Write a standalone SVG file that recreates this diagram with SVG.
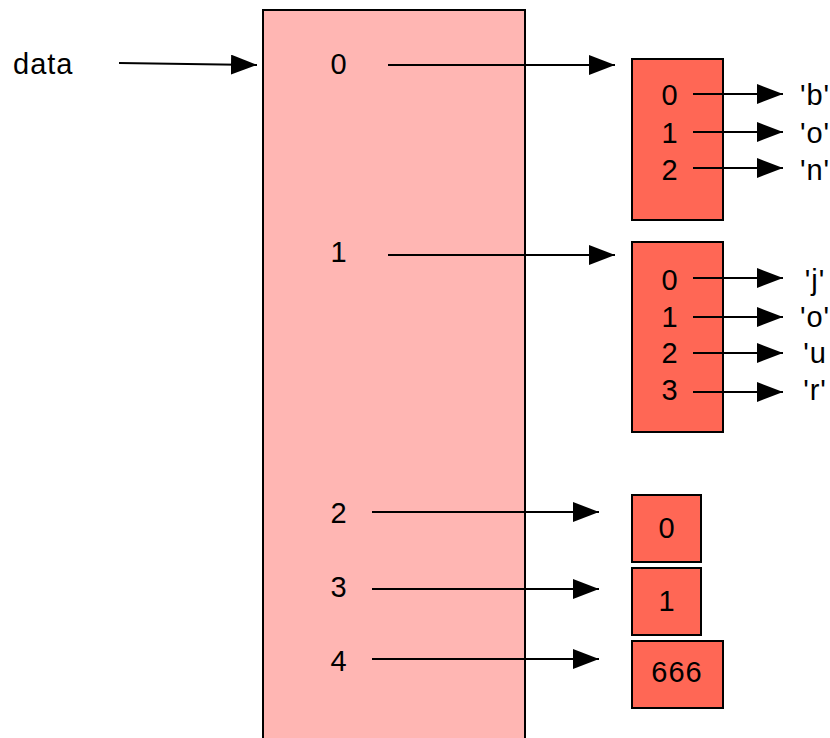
<svg xmlns="http://www.w3.org/2000/svg" width="830" height="738" viewBox="0 0 830 738">
<style>
text{font-family:"Liberation Sans",Arial,sans-serif;font-size:29px;letter-spacing:1px;fill:#000}
.m{text-anchor:middle}
.big{fill:#ffb6b3;stroke:#000;stroke-width:2}
.box{fill:#ff6755;stroke:#000;stroke-width:2}
.c{stroke:#000;stroke-width:2;fill:none;marker-end:url(#ah)}
</style>
<defs>
<marker id="ah" markerUnits="userSpaceOnUse" markerWidth="27" markerHeight="20" refX="26" refY="10" orient="auto">
<path d="M0,0 L26,10 L0,20 z" fill="#000"/>
</marker>
</defs>
<g id="data-label"><text x="13" y="74">data</text></g>
<g id="list">
<rect class="big" x="263" y="10" width="262" height="740"/>
<text x="339" y="74" class="m">0</text>
<text x="339" y="262" class="m">1</text>
<text x="339" y="523" class="m">2</text>
<text x="339" y="597" class="m">3</text>
<text x="339" y="671" class="m">4</text>
</g>
<g id="bon">
<rect class="box" x="632" y="59" width="91" height="161"/>
<text x="670" y="105" class="m">0</text>
<text x="670" y="143" class="m">1</text>
<text x="670" y="180" class="m">2</text>
<text x="815" y="105" class="m">'b'</text>
<text x="815" y="143" class="m">'o'</text>
<text x="815" y="180" class="m">'n'</text>
</g>
<g id="jour">
<rect class="box" x="632" y="242" width="91" height="190"/>
<text x="670" y="290" class="m">0</text>
<text x="670" y="327" class="m">1</text>
<text x="670" y="363" class="m">2</text>
<text x="670" y="400" class="m">3</text>
<text x="815" y="290" class="m">'j'</text>
<text x="815" y="327" class="m">'o'</text>
<text x="815" y="363" class="m">'u</text>
<text x="815" y="400" class="m">'r'</text>
</g>
<g id="v0">
<rect class="box" x="632" y="495" width="69" height="67"/>
<text x="667" y="538" class="m">0</text>
</g>
<g id="v1">
<rect class="box" x="632" y="568" width="69" height="67"/>
<text x="667" y="611" class="m">1</text>
</g>
<g id="v666">
<rect class="box" x="632" y="641" width="91" height="67"/>
<text x="677" y="682" class="m">666</text>
</g>
<g id="connectors">
<line class="c" x1="119" y1="63" x2="257" y2="65"/>
<line class="c" x1="388" y1="65" x2="615" y2="65"/>
<line class="c" x1="388" y1="255" x2="615" y2="255"/>
<line class="c" x1="372" y1="512" x2="599" y2="512"/>
<line class="c" x1="372" y1="589" x2="599" y2="589"/>
<line class="c" x1="372" y1="659" x2="599" y2="659"/>
<line class="c" x1="693" y1="94" x2="783" y2="94"/>
<line class="c" x1="693" y1="132" x2="783" y2="132"/>
<line class="c" x1="693" y1="168" x2="783" y2="168"/>
<line class="c" x1="693" y1="278" x2="783" y2="278"/>
<line class="c" x1="693" y1="317" x2="783" y2="317"/>
<line class="c" x1="693" y1="353" x2="783" y2="353"/>
<line class="c" x1="693" y1="392" x2="783" y2="392"/>
</g>
</svg>
